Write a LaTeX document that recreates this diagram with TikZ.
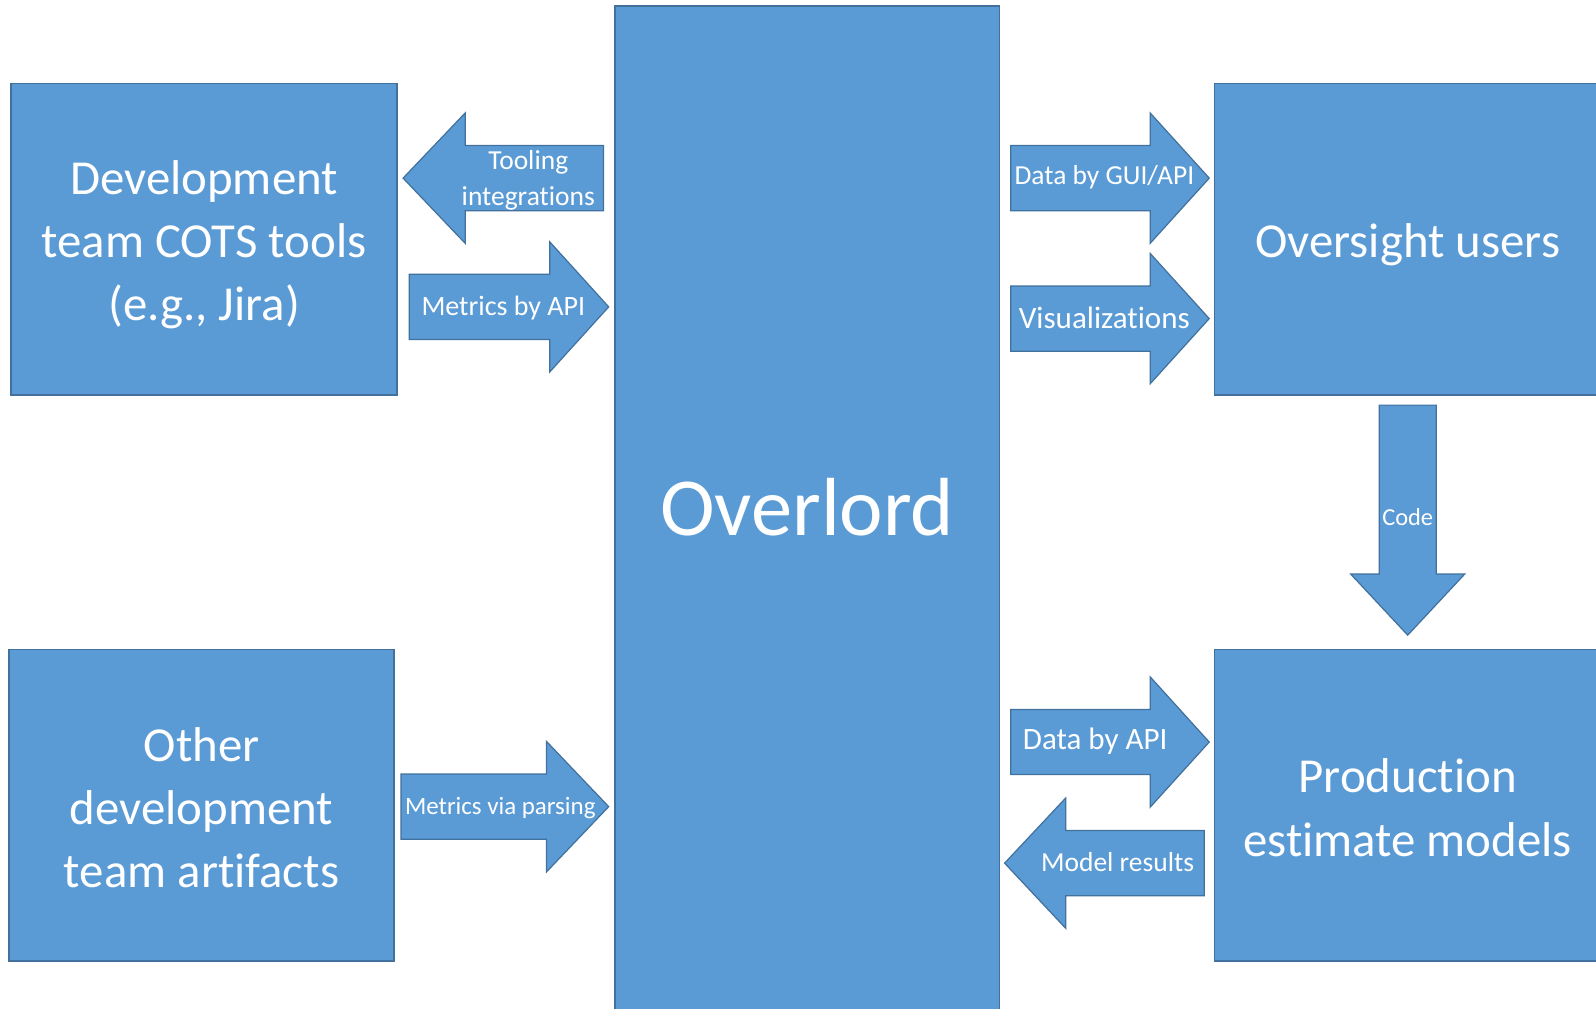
\documentclass[tikz,border=0pt]{standalone}
\usepackage{fontspec}
\setmainfont{Carlito}[Ligatures=NoCommon]
\definecolor{fillc}{HTML}{5B9BD5}
\definecolor{bordc}{HTML}{41719C}
% horizontal block arrow: #1 shaft end x, #2 head base x, #3 tip x, #4 centre y
\newcommand\myArrowH[4]{%
  \draw[arrowshape] (#1,#4-32) -- (#2,#4-32) -- (#2,#4-64) -- (#3,#4)
    -- (#2,#4+64) -- (#2,#4+32) -- (#1,#4+32) -- cycle;}
\begin{document}
\begin{tikzpicture}[x=1pt,y=-1pt,
  box/.style={draw=bordc, line width=1.4pt, fill=fillc, inner sep=0pt},
  arrowshape/.style={draw=bordc, line width=1.2pt, fill=fillc, line join=miter},
  bigtext/.style={text=white, align=center, inner sep=0pt, text depth=0pt, font=\fontsize{48}{62}\selectfont},
  lbl/.style={text=white, align=center, inner sep=0pt, text depth=0pt}]
\useasboundingbox (0,0) rectangle (1568,991);
\clip (0,0) rectangle (1568,991);
\fill[white] (0,0) rectangle (1568,991);

% boxes
\node[box, minimum width=379pt, minimum height=306pt] (dev) at (200.5,235) {};
\node[bigtext, text height=155pt] (devt) at (200.5,237.5) {Development\\team COTS tools\\(e.g., Jira)};
\node[box, minimum width=378pt, minimum height=306pt] (other) at (198,791) {};
\node[bigtext, text height=155pt] (othert) at (198,794.5) {Other\\development\\team artifacts};
\node[box, minimum width=378pt, minimum height=1014pt] (over) at (793,513) {};
\node[lbl, text height=52pt, font=\fontsize{81}{97}\selectfont] (overt) at (793,500) {Overlord};
\node[box, minimum width=427pt, minimum height=306pt] (users) at (1406.5,235) {};
\node[bigtext, text height=31pt] (userst) at (1383,237) {Oversight users};
\node[box, minimum width=427pt, minimum height=306pt] (prod) at (1406.5,791) {};
\node[bigtext, text height=93pt] (prodt) at (1383,794.5) {Production\\estimate models};

% block arrows
\myArrowH{593}{457}{396}{175}
\node[lbl, text height=52.3pt, font=\fontsize{27}{35}\selectfont] (tool) at (519,175.5) {Tooling\\integrations};
\myArrowH{402}{540}{598}{301.5}
\node[lbl, text height=17.6pt, font=\fontsize{27.5}{33}\selectfont] (mapi) at (494.5,301) {Metrics by API};
\myArrowH{394}{537}{598}{792.5}
\node[lbl, text height=15.7pt, font=\fontsize{24.5}{30}\selectfont] (mparse) at (491.5,792) {Metrics via parsing};
\myArrowH{993}{1130}{1188}{175}
\node[lbl, text height=17.3pt, font=\fontsize{27}{33}\selectfont] (dgui) at (1085,173) {Data by GUI/API};
\myArrowH{993}{1130}{1188}{313}
\node[lbl, text height=19.5pt, font=\fontsize{30.5}{36}\selectfont] (vis) at (1085,313) {Visualizations};
\myArrowH{993}{1130}{1188}{729}
\node[lbl, text height=19.5pt, font=\fontsize{30.5}{36}\selectfont] (dapi) at (1076,727) {Data by API};
\myArrowH{1183}{1047}{987}{848}
\node[lbl, text height=17.3pt, font=\fontsize{27}{33}\selectfont] (mres) at (1098,848) {Model results};

% vertical arrow
\draw[arrowshape] (1355,398) -- (1411,398) -- (1411,564) -- (1439,564) -- (1383,624)
  -- (1327,564) -- (1355,564) -- cycle;
\node[lbl, text height=15.4pt, font=\fontsize{24}{30}\selectfont] (code) at (1383,509) {Code};
\end{tikzpicture}
\end{document}
